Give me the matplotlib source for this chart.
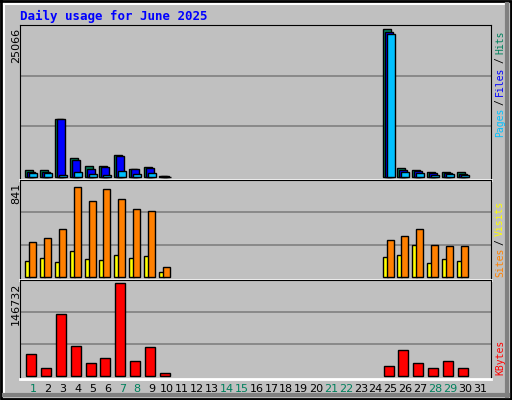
import matplotlib
matplotlib.use("Agg")
import matplotlib.pyplot as plt
import numpy as np

days = list(range(1, 32))
weekend = [1, 7, 8, 14, 15, 21, 22, 28, 29]

hits = [1160, 1160, 9800, 3300, 1800, 1800, 3650, 1300, 1650, 150] + [0] * 14 + [25066, 1500, 1160, 830, 830, 830, 0]
files = [830, 830, 9800, 2800, 1300, 1750, 3500, 1300, 1500, 100] + [0] * 14 + [24700, 1250, 1000, 660, 750, 500, 0]
pages = [660, 660, 330, 830, 500, 330, 1000, 500, 660, 50] + [0] * 14 + [24300, 830, 660, 330, 500, 330, 0]
visits = [148, 174, 139, 236, 166, 157, 201, 174, 192, 42] + [0] * 14 + [183, 201, 289, 130, 166, 148, 0]
sites = [316, 351, 431, 812, 688, 794, 706, 617, 599, 95] + [0] * 14 + [334, 369, 431, 289, 281, 281, 0]
kbytes = [34700, 13000, 98200, 47600, 20800, 28500, 146732, 23900, 45600, 5300] + [0] * 14 + [16100, 40900, 20800, 13000, 23900, 13000, 0]

GRAY = "#C0C0C0"
W, H = 512, 400
PX = 1 / 14.9  # one pixel in day units

fig = plt.figure(figsize=(W / 100, H / 100), dpi=100, facecolor=GRAY)
mono = "DejaVu Sans Mono"


def box(y0, y1):
    ax = fig.add_axes([20 / W, 1 - y1 / H, (491 - 20) / W, (y1 - y0) / H])
    ax.set_facecolor(GRAY)
    ax.set_xlim(0.13, 31.74)
    ax.set_xticks([])
    ax.set_yticks([])
    for s in ax.spines.values():
        s.set_color("black")
    ax.spines["bottom"].set_color("white")
    ax.spines["bottom"].set_linewidth(2)
    return ax


def bars(ax, vals, x0, x1, color):
    x = np.array(days)
    v = np.array(vals, dtype=float)
    m = v > 0
    ax.bar(x[m] + x0 * PX, v[m], width=(x1 - x0) * PX, align="edge",
           color=color, edgecolor="black", linewidth=1, zorder=3)


def grid(ax, top):
    for f in (1 / 3, 2 / 3):
        ax.axhline(top * f, color="#808080", lw=1.2, zorder=1)


# top panel
ax1 = box(25, 180)
top1 = 25066 * 1.03
ax1.set_ylim(-top1 * 0.02, top1)
grid(ax1, top1)
bars(ax1, hits, -8, 0, "#00805C")
bars(ax1, files, -6, 2, "#0000FF")
bars(ax1, pages, -4, 4, "#00C0FF")

# middle panel
ax2 = box(180, 280)
top2 = 841 * 1.04
ax2.set_ylim(-top2 * 0.03, top2)
grid(ax2, top2)
bars(ax2, visits, -8, -3, "#FFFF00")
bars(ax2, sites, -4, 3, "#FF8000")

# bottom panel
ax3 = box(280, 379)
top3 = 146732 * 1.03
ax3.set_ylim(-top3 * 0.03, top3)
grid(ax3, top3)
bars(ax3, kbytes, -7, 3, "#FF0000")

for d in days:
    fig.text((33 + (d - 1) * 14.9) / W, 1 - 389 / H, str(d), ha="center", va="center",
             fontsize=8, family="DejaVu Sans",
             color="#00805C" if d in weekend else "black")

fig.text(20 / W, 1 - 16 / H, "Daily usage for June 2025", color="#0000FF",
         fontsize=9, family=mono, weight="bold", va="center")

for y, txt in ((28, "25066"), (183, "841"), (283, "146732")):
    fig.text(16 / W, 1 - y / H, txt, rotation=90, ha="center", va="top",
             fontsize=8, family="DejaVu Sans")

renderer = fig.canvas.get_renderer()


def side(y, parts):
    # parts drawn bottom-to-top, each measured so they don't overlap
    yy = y
    for txt, col in parts:
        t = fig.text(500 / W, 1 - yy / H, txt, rotation=90, ha="center", va="bottom",
                     fontsize=7, family=mono, color=col)
        yy -= t.get_window_extent(renderer).height + 3


side(137, [("Pages", "#00C0FF"), ("/", "black"), ("Files", "#0000FF"), ("/", "black"), ("Hits", "#00805C")])
side(277, [("Sites", "#FF8000"), ("/", "black"), ("Visits", "#FFFF00")])
side(375, [("KBytes", "#FF0000")])

# frame
frame = fig.add_axes([0, 0, 1, 1], facecolor="none")
frame.set_xlim(0, W)
frame.set_ylim(H, 0)
frame.axis("off")
frame.plot([1, W - 1, W - 1, 1, 1], [1, 1, H - 1, H - 1, 1], color="black", lw=2)
frame.plot([4, W - 6], [4, 4], color="white", lw=1.5)
frame.plot([4, 4], [4, H - 6], color="white", lw=1.5)
frame.plot([W - 5, W - 5], [4, H - 4], color="#808080", lw=3)
frame.plot([4, W - 4], [H - 5, H - 5], color="#808080", lw=3)

fig.savefig("out.png", dpi=100, facecolor=GRAY)
